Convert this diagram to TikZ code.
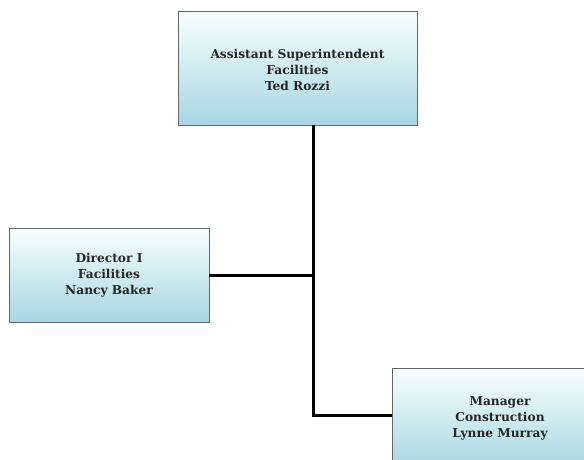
\documentclass[tikz,border=0pt]{standalone}
\usepackage{fontspec}
\setmainfont{DejaVu Serif}
\begin{document}
\begin{tikzpicture}[x=1pt,y=-1pt,
  orgbox/.style={draw=black!60, line width=0.8pt, top color=cyan!3!white, bottom color={rgb,255:red,168;green,214;blue,226},
    rectangle, inner sep=0pt},
  orgtext/.style={align=center, font=\bfseries\fontsize{12.2}{16}\selectfont, text=black!85, inner sep=0pt},
  link/.style={line width=3pt, black}]
\useasboundingbox (0,0) rectangle (584,459);
% boxes
\node[orgbox, minimum width=239pt, minimum height=114pt] (ted) at (297.5,68) {};
\node[orgbox, minimum width=200pt, minimum height=94pt] (nancy) at (109,275) {};
\node[orgbox, minimum width=216pt, minimum height=100pt] (lynne) at (500,418) {};
% titles and names
\node[orgtext] (tedtext) at ([yshift=-1.5pt]ted.center) {Assistant Superintendent\\Facilities\\Ted Rozzi};
\node[orgtext] (nancytext) at (nancy.center) {Director I\\Facilities\\Nancy Baker};
\node[orgtext] (lynnetext) at (lynne.center) {Manager\\Construction\\Lynne Murray};
% reporting lines
\coordinate (j1) at (313,275);
\coordinate (j2) at (313,415);
\draw[link] (ted.south -| j1) -- (j1) -- (j2) -- (j2 -| lynne.west);
\draw[link] (nancy.east) -- (j1);
\end{tikzpicture}
\end{document}
